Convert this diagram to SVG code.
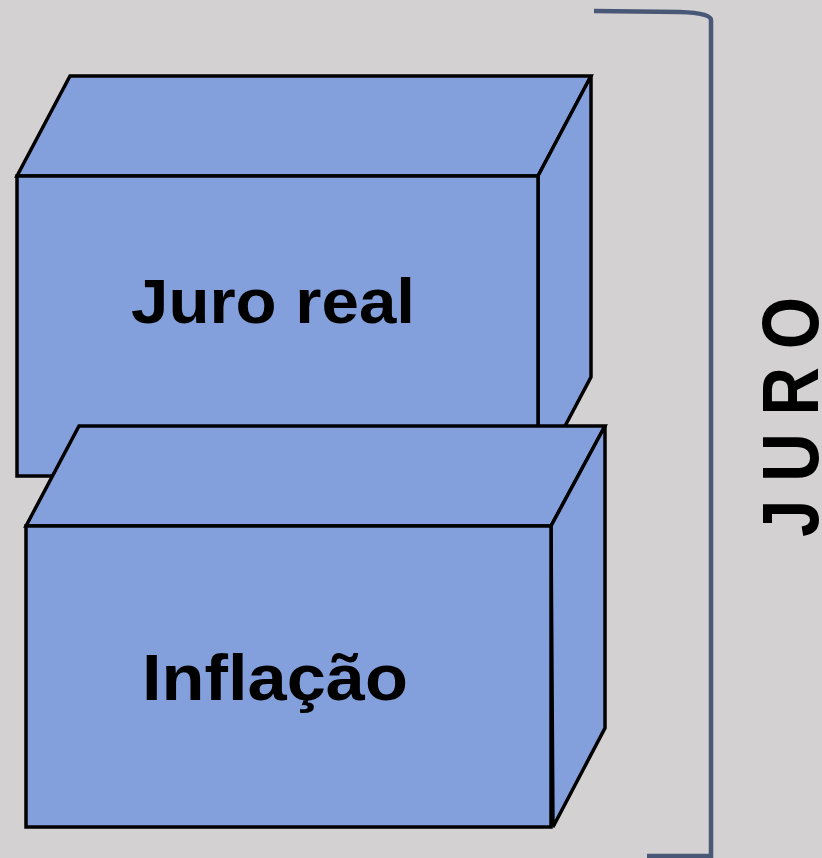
<svg xmlns="http://www.w3.org/2000/svg" width="822" height="858" viewBox="0 0 822 858">
<style>
.face{fill:#84a0dc;stroke:#000;stroke-width:3.5;stroke-linejoin:miter}
.lbl{font-family:"Liberation Sans",Arial,sans-serif;font-weight:bold;fill:#000}
.brace{fill:none;stroke:#4a5878;stroke-width:4.5}
</style>
<rect x="0" y="0" width="822" height="858" fill="#d3d1d1"/>
<g id="connectors">
<path class="brace" d="M594,11 L680,12 Q711,13 711,20 L711,856 L647,856"/>
</g>
<g id="juro-real">
<polygon class="face" points="17,176 70,76 591,76 538,176"/>
<polygon class="face" points="538,176 591,76 591,377 538,477"/>
<rect class="face" x="17" y="176" width="521" height="300"/>
<text class="lbl" x="131" y="323" font-size="63" textLength="284" lengthAdjust="spacingAndGlyphs">Juro real</text>
</g>
<g id="inflacao">
<polygon class="face" points="26,526 79,426 605,426 551,526"/>
<polygon class="face" points="551,526 605,426 605,728 553,827"/>
<rect class="face" x="26" y="526" width="525" height="301"/>
<text class="lbl" x="142" y="700" font-size="64" textLength="266" lengthAdjust="spacingAndGlyphs">Inflação</text>
</g>
<g id="juro-label">
<text class="lbl" font-size="79" letter-spacing="21" transform="translate(818,537) rotate(-90) scale(0.85,1)">JURO</text>
</g>
</svg>
